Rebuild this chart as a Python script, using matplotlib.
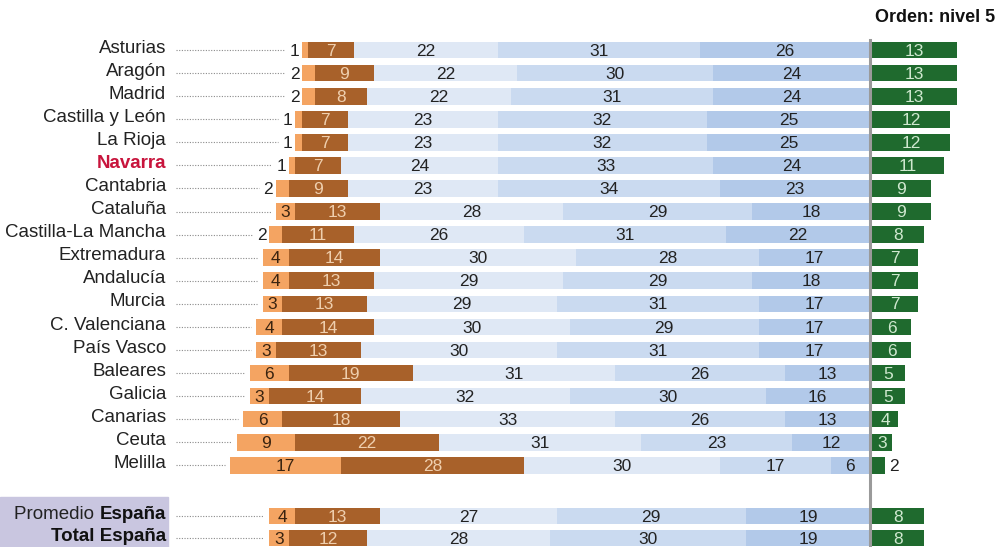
import matplotlib
matplotlib.use("Agg")
import matplotlib.pyplot as plt

plt.rcParams["font.family"] = ["Liberation Sans", "DejaVu Sans"]

# Datos: porcentaje de alumnos por nivel (<1, 1, 2, 3, 4, 5)
regiones = [
    "Asturias", "Aragón", "Madrid", "Castilla y León", "La Rioja", "Navarra",
    "Cantabria", "Cataluña", "Castilla-La Mancha", "Extremadura", "Andalucía",
    "Murcia", "C. Valenciana", "País Vasco", "Baleares", "Galicia", "Canarias",
    "Ceuta", "Melilla", "Promedio España", "Total España",
]
nivel_0 = [1, 2, 2, 1, 1, 1, 2, 3, 2, 4, 4, 3, 4, 3, 6, 3, 6, 9, 17, 4, 3]
nivel_1 = [7, 9, 8, 7, 7, 7, 9, 13, 11, 14, 13, 13, 14, 13, 19, 14, 18, 22, 28, 13, 12]
nivel_2 = [22, 22, 22, 23, 23, 24, 23, 28, 26, 30, 29, 29, 30, 30, 31, 32, 33, 31, 30, 27, 28]
nivel_3 = [31, 30, 31, 32, 32, 33, 34, 29, 31, 28, 29, 31, 29, 31, 26, 30, 26, 23, 17, 29, 30]
nivel_4 = [26, 24, 24, 25, 25, 24, 23, 18, 22, 17, 18, 17, 17, 17, 13, 16, 13, 12, 6, 19, 19]
nivel_5 = [13, 13, 13, 12, 12, 11, 9, 9, 8, 7, 7, 7, 6, 6, 5, 5, 4, 3, 2, 8, 8]

# posiciones verticales (hueco antes de los totales)
ypos = list(range(19)) + [20.2, 21.15]

col_izq = ["#f4a462", "#a8612a", "#dfe8f5", "#cadaf0", "#b2c9e9"]
col_txt = ["#3a2410", "#efcfae", "#222222", "#222222", "#222222"]
verde = "#1f6a2e"

W, H = 1008, 547
fig = plt.figure(figsize=(W / 100, H / 100), dpi=100)
px = 6.53  # pixeles por punto porcentual
x0_px, x1_px, cero_px = 172, 1000, 870
ax = fig.add_axes([x0_px / W, 0, (x1_px - x0_px) / W, 517 / H])
ax.set_xlim(-(cero_px - x0_px) / px, (x1_px - cero_px) / px)
ax.set_ylim(21.54, -0.87)
ax.axis("off")

alto = 0.72
fs = 12.5
for i, reg in enumerate(regiones):
    y = ypos[i]
    vals = [nivel_0[i], nivel_1[i], nivel_2[i], nivel_3[i], nivel_4[i]]
    inicio = -sum(vals)
    izq = inicio
    fin_guia = inicio - 0.8
    for k, v in enumerate(vals):
        ax.barh(y, v, left=izq, height=alto, color=col_izq[k], linewidth=0)
        if k == 0 and v <= 2:
            ax.text(izq - 0.4, y + 0.05, str(v), ha="right", va="center",
                    fontsize=fs, color="#222222")
            fin_guia = izq - 2.6
        else:
            ax.text(izq + v / 2, y + 0.05, str(v), ha="center", va="center",
                    fontsize=fs, color=col_txt[k])
        izq += v
    g = nivel_5[i]
    ax.barh(y, g, left=0.3, height=alto, color=verde, linewidth=0)
    if g <= 2:
        ax.text(g + 1.0, y + 0.05, str(g), ha="left", va="center",
                fontsize=fs, color="#222222")
    else:
        ax.text(0.3 + g / 2, y + 0.05, str(g), ha="center", va="center",
                fontsize=fs, color="#cfe8cf")

    # linea guia punteada
    ax.plot([-(cero_px - 176) / px, fin_guia], [y, y], color="#8a8a8a",
            lw=0.8, ls=(0, (1, 1.4)), clip_on=False)

    # etiqueta
    xl = -(cero_px - 166) / px
    fl = 13.5
    if reg == "Navarra":
        ax.text(xl, y - 0.08, reg, ha="right", va="center", fontsize=fl,
                color="#c8143c", fontweight="bold", clip_on=False)
    elif reg == "Promedio España":
        t = ax.text(xl, y - 0.08, "España", ha="right", va="center",
                    fontsize=fl, fontweight="bold", color="#111111", clip_on=False)
        ax.annotate("Promedio ", xy=(0, 0.5), xycoords=t, ha="right",
                    va="center", fontsize=fl, color="#222222")
    elif reg == "Total España":
        ax.text(xl, y - 0.08, reg, ha="right", va="center", fontsize=fl,
                fontweight="bold", color="#111111", clip_on=False)
    else:
        ax.text(xl, y - 0.08, reg, ha="right", va="center", fontsize=fl,
                color="#222222", clip_on=False)

# eje vertical gris en el nivel 5
ax.plot([0, 0], [-0.45, 21.54], color="#9a9a9a", lw=2.2, clip_on=False)

# caja lila detras de los totales
fig.patches.append(plt.Rectangle((0, 0), 168 / W, 50 / H, transform=fig.transFigure,
                                 color="#c9c6e0", zorder=-1))

fig.text(995 / W, 1 - 18 / H, "Orden: nivel 5", ha="right", va="center",
         fontsize=13, fontweight="bold", color="#111111",
         family=["Liberation Sans Narrow", "Liberation Sans", "DejaVu Sans"])

fig.savefig("out.png", dpi=100)
